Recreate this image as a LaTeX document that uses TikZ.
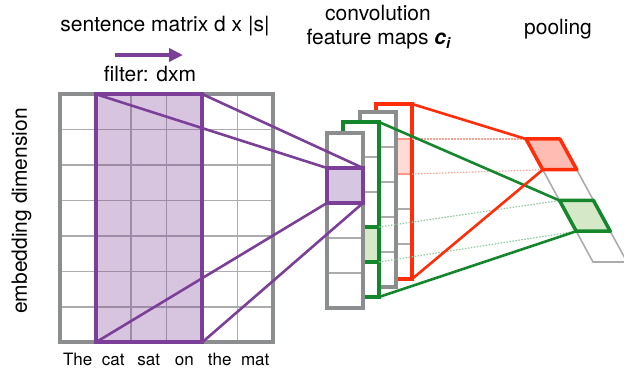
\documentclass[tikz,border=0pt]{standalone}
\usepackage{fontspec}
\setmainfont{TeX Gyre Heros}
\usetikzlibrary{arrows.meta}

\definecolor{framegray}{RGB}{140,141,143}
\definecolor{cellgray}{RGB}{172,172,174}
\definecolor{purpleline}{RGB}{123,63,152}
\definecolor{purplefill}{RGB}{214,198,226}
\definecolor{redline}{RGB}{255,45,10}
\definecolor{redfill}{RGB}{255,188,178}
\definecolor{greenline}{RGB}{20,135,45}
\definecolor{greenfill}{RGB}{213,232,200}

\begin{document}
\begin{tikzpicture}[x=1pt, y=-1pt,
    cellbox/.style={inner sep=0, outer sep=0, minimum width=#1},
    cellbox/.default=36pt,
    gridline/.style={draw=cellgray, line width=1.3pt},
    link/.style={line width=2.6pt},
    dotlink/.style={line width=1.2pt, dash pattern=on 1.5pt off 1.5pt},
    title/.style={font=\fontsize{21}{24}\selectfont, anchor=base},
    word/.style={font=\fontsize{17}{18}\selectfont, anchor=base}]
    \useasboundingbox (0,0) rectangle (624,371);

    % sentence matrix with the filter window
    \foreach \i in {1,...,5} \draw[gridline] (60+35.5*\i,94) -- (60+35.5*\i,342.5);
    \foreach \j in {1,...,6} \draw[gridline] (60,94+35.5*\j) -- (273,94+35.5*\j);
    \node[cellbox=213pt, minimum height=248.5pt, draw=framegray, line width=4pt] (mat) at (166.5,218.25) {};
    \node[cellbox=106.5pt, minimum height=248.5pt, draw=purpleline, line width=4pt,
          fill=purpleline, fill opacity=0.3] (filt) at (148.75,218.25) {};
    \foreach \w [count=\k] in {The,cat,sat,on,the,mat}
        \node[word] (w\k) at (42.25+35.5*\k,366) {\w};

    % feature maps, back to front
    \fill[white] (376,104) rectangle ++(36,175);
    \foreach \j in {1,...,4} \draw[gridline] (376,104+35*\j) -- ++(36,0);
    \node[cellbox, minimum height=35pt, fill=redline!17, anchor=north west] (cd) at (376,139) {};
    \draw[redline!50, line width=2.5pt] (cd.north west) -- (cd.north east) (cd.south west) -- (cd.south east);
    \node[cellbox, minimum height=175pt, draw=redline, line width=4pt, anchor=north west] (mapd) at (376,104) {};

    \fill[white] (360,112) rectangle ++(36,175);
    \foreach \j in {1,...,4} \draw[gridline] (360,112+35*\j) -- ++(36,0);
    \node[cellbox, minimum height=175pt, draw=framegray, line width=4pt, anchor=north west] (mapc) at (360,112) {};

    \fill[white] (343,122) rectangle ++(36,175);
    \foreach \j in {1,...,4} \draw[gridline] (343,122+35*\j) -- ++(36,0);
    \node[cellbox, minimum height=35pt, fill=greenfill, anchor=north west] (cb) at (343,227) {};
    \draw[greenline, line width=4pt] (cb.north west) -- (cb.north east) (cb.south west) -- (cb.south east);
    \node[cellbox, minimum height=175pt, draw=greenline, line width=4pt, anchor=north west] (mapb) at (343,122) {};

    \fill[white] (327,133) rectangle ++(36,175);
    \foreach \j in {1,...,4} \draw[gridline] (327,133+35*\j) -- ++(36,0);
    \node[cellbox, minimum height=175pt, draw=framegray, line width=4pt, anchor=north west] (mapa) at (327,133) {};
    \node[cellbox, minimum height=35pt, fill=purplefill, draw=purpleline, line width=4pt, anchor=north west] (ca) at (327,168) {};

    % filter -> feature map
    \draw[link, purpleline] (filt.north west) -- (ca.north west);
    \draw[link, purpleline] (filt.north east) -- (ca.north east);
    \draw[link, purpleline] (filt.south west) -- (ca.south west);
    \draw[link, purpleline] (filt.south east) -- (ca.south east);

    % pooled column
    \foreach \i in {0,...,4} {
        \coordinate (l\i) at (526+16.75*\i,139+30.75*\i);
        \coordinate (r\i) at (560+16.75*\i,139+30.75*\i);
    }
    \draw[gridline, line width=1.6pt] (l1) -- (l2) (r1) -- (r2) (l3) -- (l4) -- (r4) -- (r3);

    \draw[dotlink, redline!45] (cd.north east) -- (l0);
    \draw[dotlink, redline!45] (cd.south east) -- (l1);
    \draw[dotlink, greenline!45] (cb.north east) -- (l2);
    \draw[dotlink, greenline!45] (cb.south east) -- (l3);
    \draw[link, greenline] (mapb.north east) -- (l2);
    \draw[link, greenline] (mapb.south east) -- (l3);
    \draw[link, redline] (mapd.north east) -- (l0);
    \draw[link, redline] (mapd.south east) -- (l1);

    \filldraw[fill=redfill, draw=redline, line width=3.5pt, line join=round] (l0) -- (r0) -- (r1) -- (l1) -- cycle;
    \filldraw[fill=greenfill, draw=greenline, line width=3.5pt, line join=round] (l2) -- (r2) -- (r3) -- (l3) -- cycle;

    % labels
    \node[title] (ttl) at (165,32) {sentence matrix d x |s|};
    \coordinate (arrs) at (115,55);
    \coordinate (arre) at (183,55);
    \draw[purpleline, line width=3.5pt, -{Triangle[length=14pt, width=13pt]}] (arrs) -- (arre);
    \node[title] (flbl) at (150,82) {filter: dxm};
    \node[title] (conv) at (378,21) {convolution};
    \node[title] (feat) at (379,45) {feature maps \textbf{\textit{c}}\textsubscript{\textbf{\textit{i}}}};
    \node[title] (pool) at (558,35) {pooling};
    \node[title, rotate=90] (emb) at (27,211) {embedding dimension};
\end{tikzpicture}
\end{document}
